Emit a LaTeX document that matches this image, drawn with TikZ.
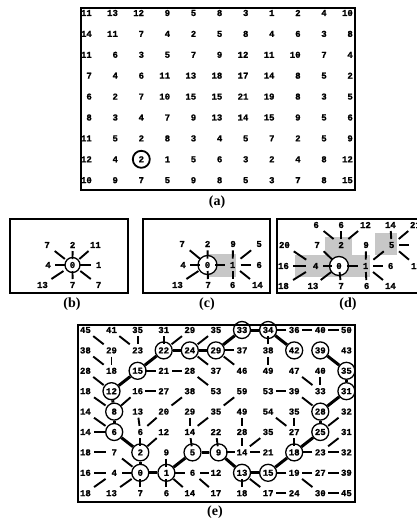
\documentclass[tikz,border=0pt]{standalone}
\usepackage{fontspec}
\setmainfont{Liberation Serif}
\newfontfamily\digfont[BoldFeatures={FakeBold=1.2}]{Liberation Mono}
\usetikzlibrary{calc}
\begin{document}
\begin{tikzpicture}[x=1pt,y=-1pt,
  num/.style={font=\digfont\bfseries\fontsize{9}{9}\selectfont, inner sep=0pt, anchor=east},
  cnum/.style={font=\digfont\bfseries\fontsize{9}{9}\selectfont, inner sep=0pt},
  circ/.style={circle, draw, line width=1.3pt, minimum size=17pt, inner sep=0pt},
  ray/.style={line width=1.9pt},
  pth/.style={line width=3pt},
  box/.style={draw, line width=1.8pt},
  lab/.style={font=\bfseries\fontsize{14}{14}\selectfont, inner sep=0pt},
  shd/.style={fill=black!22, draw=none}]
\useasboundingbox (0,0) rectangle (416,519);

% ---------------- (a)
\draw[box] (81,8) rectangle (355,190);
\foreach \row [count=\r] in {
 {11,13,12,9,5,8,3,1,2,4,10},
 {14,11,7,4,2,5,8,4,6,3,8},
 {11,6,3,5,7,9,12,11,10,7,4},
 {7,4,6,11,13,18,17,14,8,5,2},
 {6,2,7,10,15,15,21,19,8,3,5},
 {8,3,4,7,9,13,14,15,9,5,6},
 {11,5,2,8,3,4,5,7,2,5,9},
 {12,4,2,1,5,6,3,2,4,8,12},
 {10,9,7,5,9,8,5,3,7,8,15}}{
  \foreach \v [count=\c] in \row {
    \node[num] (a-\r-\c) at ({92+26.1*(\c-1)},{13+20.9*(\r-1)}) {\v};
  }
}
\node[circ, line width=1.8pt] (acirc) at (a-8-3) {};
\node[lab] (la) at (217,202) {(a)};

% ---------------- (b)
\draw[box] (10,219) rectangle (128,293);
\node[num] (b-0-0) at (50,245) {7};
\node[num] (b-0-1) at (75.5,245) {2};
\node[num] (b-0-2) at (101,245) {11};
\node[num] (b-1-0) at (51,265) {4};
\node[circ, minimum size=15pt] (bc) at (72.5,265) {};
\node[cnum] (b-1-1) at (bc) {0};
\node[num] (b-1-2) at (101.5,265) {1};
\node[num] (b-2-0) at (48,285) {13};
\node[num] (b-2-1) at (75.5,285) {7};
\node[num] (b-2-2) at (101.5,285) {7};
\foreach \t in {b-0-0,b-0-1,b-0-2,b-1-0,b-1-2,b-2-0,b-2-1,b-2-2}
  \draw[ray] ($(b-1-1)!0.3!(\t)$) -- ($(b-1-1)!0.7!(\t)$);
\node[lab] (lb) at (72,304) {(b)};

% ---------------- (c)
\draw[box] (143,219) rectangle (270,293);
\fill[shd] (207,254) rectangle (236,277);
\node[num] (c-0-0) at (185,244) {7};
\node[num] (c-0-1) at (210.5,244) {2};
\node[num] (c-0-2) at (236,244) {9};
\node[num] (c-0-3) at (262,244) {5};
\node[num] (c-1-0) at (186,265) {4};
\node[circ, fill=white, minimum size=19pt] (cc) at (207.5,265) {};
\node[cnum] (c-1-1) at (cc) {0};
\node[num] (c-1-2) at (235.5,265) {1};
\node[num] (c-1-3) at (262,265) {6};
\node[num] (c-2-0) at (183,285) {13};
\node[num] (c-2-1) at (211,285) {7};
\node[num] (c-2-2) at (235.5,285) {6};
\node[num] (c-2-3) at (263,285) {14};
\foreach \t in {c-0-0,c-0-1,c-1-0,c-2-0,c-2-1,c-1-2}
  \draw[ray] ($(c-1-1)!0.3!(\t)$) -- ($(c-1-1)!0.7!(\t)$);
\foreach \t in {c-0-2,c-0-3,c-1-3,c-2-3,c-2-2}
  \draw[ray] ($(c-1-2)!0.3!(\t)$) -- ($(c-1-2)!0.7!(\t)$);
\node[lab] (lc) at (207,304) {(c)};

% ---------------- (d)
\draw[box] (277,219) rectangle (420,293);
\fill[shd] (325,237) rectangle (352,255);
\fill[shd] (295,255) rectangle (370,277);
\fill[shd] (375,233) rectangle (397,255);
\node[num] (d-0-1) at (319,225) {6};
\node[num] (d-0-2) at (344,225) {6};
\node[num] (d-0-3) at (371,225) {12};
\node[num] (d-0-4) at (396,225) {14};
\node[num] (d-0-5) at (421,225) {21};
\node[num] (d-1-0) at (290,245) {20};
\node[num] (d-1-1) at (320,245) {7};
\node[num] (d-1-2) at (344,245) {2};
\node[num] (d-1-3) at (369,245) {9};
\node[num] (d-1-4) at (394.5,245) {5};
\coordinate (d-1-5) at (417,245);
\node[num] (d-2-0) at (289,266) {16};
\node[num] (d-2-1) at (318.5,266) {4};
\node[circ, fill=white, minimum size=19pt] (dc) at (339,266) {};
\node[cnum] (d-2-2) at (dc) {0};
\node[num] (d-2-3) at (368.5,266) {1};
\node[num] (d-2-4) at (393.5,266) {6};
\node[num] (d-2-5) at (422,266) {12};
\node[num] (d-3-0) at (289,286) {18};
\node[num] (d-3-1) at (318.5,286) {13};
\node[num] (d-3-2) at (344,286) {7};
\node[num] (d-3-3) at (369.5,286) {6};
\node[num] (d-3-4) at (396,286) {14};
\foreach \s/\t in {d-1-2/d-0-1, d-1-2/d-0-2, d-1-2/d-0-3,
                   d-2-1/d-1-0, d-2-1/d-2-0, d-2-1/d-3-0,
                   d-2-2/d-1-1, d-2-2/d-2-1, d-2-2/d-3-1, d-2-2/d-3-2, d-2-2/d-2-3,
                   d-2-3/d-1-3, d-2-3/d-1-4, d-2-3/d-2-4, d-2-3/d-3-4, d-2-3/d-3-3,
                   d-1-4/d-0-4, d-1-4/d-0-5, d-1-4/d-1-5, d-1-4/d-2-5}
  \draw[ray] ($(\s)!0.3!(\t)$) -- ($(\s)!0.7!(\t)$);
\node[lab] (ld) at (348,304) {(d)};

% ---------------- (e)
\draw[box] (78,325) rectangle (355,502);
\foreach \row [count=\r] in {
 {45,41,35,31,29,35,33,34,36,40,50},
 {38,29,23,22,24,29,37,38,42,39,43},
 {28,18,15,21,28,37,46,49,47,40,35},
 {18,12,16,27,38,53,59,53,39,33,31},
 {14,8,13,20,29,35,49,54,35,28,32},
 {14,6,6,12,14,22,28,35,27,25,31},
 {18,7,2,9,5,9,14,21,18,23,32},
 {16,4,0,1,6,12,13,15,19,27,39},
 {18,13,7,6,14,17,18,17,24,30,45}}{
  \foreach \v [count=\c] in \row {
    \node[num] (e-\r-\c) at ({91+26.1*(\c-1)},{330+20.4*(\r-1)}) {\v};
  }
}
\foreach \r/\c in {8/3,8/4,7/3,7/5,7/6,8/7,8/8,7/9,6/10,5/10,4/11,3/11,2/10,
                   6/2,5/2,4/2,3/3,2/4,2/5,2/6,1/7,1/8,2/9}
  \node[circ] (ec-\r-\c) at (e-\r-\c) {};
\foreach \ra/\ca/\rb/\cb in {8/3/7/3, 7/3/6/2, 6/2/5/2, 5/2/4/2, 4/2/3/3, 3/3/2/4,
   2/4/2/5, 2/5/2/6, 2/6/1/7, 1/7/1/8, 1/8/2/9,
   8/3/8/4, 8/4/7/5, 7/5/7/6, 7/6/8/7, 8/7/8/8, 8/8/7/9, 7/9/6/10, 6/10/5/10,
   5/10/4/11, 4/11/3/11, 3/11/2/10}
  \draw[pth] (ec-\ra-\ca) -- (ec-\rb-\cb);
\foreach \ra/\ca/\rb/\cb in {
   1/1/2/2, 1/2/2/3, 1/3/2/3, 1/4/2/4, 1/5/2/4, 1/6/2/5, 1/9/1/8, 1/10/1/9, 1/11/1/10,
   2/1/3/2, 2/2/3/2, 2/7/2/6, 2/8/1/8,
   3/1/4/2, 3/4/3/3, 3/5/3/4, 3/6/2/5, 3/7/2/6, 3/8/2/8, 3/9/4/10,
   4/1/5/2, 4/3/5/2, 4/4/4/3, 4/5/5/4, 4/6/3/5, 4/7/5/6, 4/8/4/9, 4/9/5/10, 4/10/3/10,
   5/1/6/2, 5/3/6/3, 5/4/6/3, 5/5/6/5, 5/6/6/5, 5/7/6/7, 5/8/6/9, 5/9/6/9, 5/11/6/10,
   6/1/6/2, 6/3/7/3, 6/4/7/3, 6/5/7/5, 6/6/7/6, 6/7/7/7, 6/8/7/7, 6/9/7/9, 6/11/7/10,
   7/1/7/2, 7/2/8/3, 7/4/8/4, 7/7/7/6, 7/8/7/7, 7/10/7/9, 7/11/7/10,
   8/1/8/2, 8/2/8/3, 8/5/8/4, 8/6/8/5, 8/9/8/8, 8/10/8/9, 8/11/8/10,
   9/1/8/2, 9/2/8/3, 9/3/8/3, 9/4/8/4, 9/5/8/4, 9/6/8/5, 9/7/8/7, 9/8/8/7, 9/9/9/8,
   9/10/8/9, 9/11/9/10}
  \draw[ray] ($(e-\ra-\ca)!0.3!(e-\rb-\cb)$) -- ($(e-\ra-\ca)!0.7!(e-\rb-\cb)$);
\node[lab] (le) at (215,512) {(e)};
\end{tikzpicture}
\end{document}
